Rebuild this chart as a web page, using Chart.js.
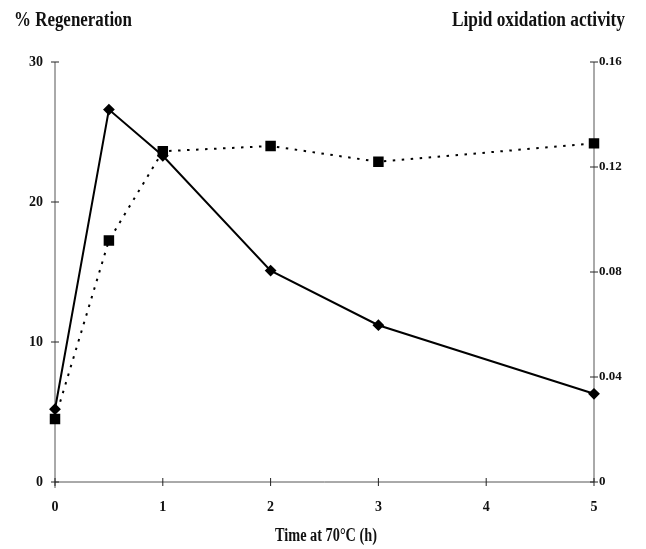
<!DOCTYPE html>
<html>
<head>
<meta charset="utf-8">
<script src="https://cdn.jsdelivr.net/npm/chart.js@4.4.1/dist/chart.umd.min.js"></script>
<style>
  html, body { margin: 0; padding: 0; background: #fff; }
  #wrap { width: 646px; height: 549px; }
</style>
</head>
<body>
<div id="wrap"><canvas id="chart" width="646" height="549"></canvas></div>
<script>
// time points (h) and the two measured series
const hours = [0, 0.5, 1, 2, 3, 5];
const regeneration = [5.2, 26.6, 23.3, 15.1, 11.2, 6.3];
const lipidOxidation = [0.024, 0.092, 0.126, 0.128, 0.122, 0.129];

// tick values on each axis
const timeTicks = [0, 1, 2, 3, 4, 5];
const leftTicks = [0, 10, 20, 30];
const rightTicks = [0, 0.04, 0.08, 0.12, 0.16];

const serif = '"Liberation Serif", "Times New Roman", serif';
const ink = '#111';

// draws text squeezed horizontally so it fills a given width
function squeezed(ctx, text, x, y, align, width, size) {
  ctx.save();
  ctx.font = 'bold ' + size + 'px ' + serif;
  ctx.fillStyle = ink;
  ctx.textBaseline = 'alphabetic';
  const w = ctx.measureText(text).width;
  const k = width / w;
  let x0 = x;
  if (align === 'right') x0 = x - width;
  if (align === 'center') x0 = x - width / 2;
  ctx.translate(x0, y);
  ctx.scale(k, 1);
  ctx.textAlign = 'left';
  ctx.fillText(text, 0, 0);
  ctx.restore();
}

// axis lines with small cross ticks, plus the axis titles
const frame = {
  id: 'frame',
  beforeDatasetsDraw(chart) {
    const { ctx, chartArea: a, scales } = chart;
    ctx.save();
    ctx.strokeStyle = '#555';
    ctx.lineWidth = 1;
    ctx.beginPath();
    ctx.moveTo(a.left, a.top);
    ctx.lineTo(a.left, a.bottom + 6);
    ctx.moveTo(a.left, a.bottom);
    ctx.lineTo(a.right, a.bottom);
    ctx.moveTo(a.right, a.top);
    ctx.lineTo(a.right, a.bottom);
    ctx.stroke();

    ctx.strokeStyle = '#222';
    ctx.beginPath();
    scales.x.ticks.forEach(t => {
      const px = scales.x.getPixelForValue(t.value);
      ctx.moveTo(px, a.bottom - 4);
      ctx.lineTo(px, a.bottom + 4);
    });
    scales.y.ticks.forEach(t => {
      const py = scales.y.getPixelForValue(t.value);
      ctx.moveTo(a.left - 4, py);
      ctx.lineTo(a.left + 4, py);
    });
    scales.y1.ticks.forEach(t => {
      const py = scales.y1.getPixelForValue(t.value);
      ctx.moveTo(a.right - 4, py);
      ctx.lineTo(a.right + 4, py);
    });
    ctx.stroke();
    ctx.restore();
  },
  afterDraw(chart) {
    const ctx = chart.ctx;
    squeezed(ctx, '% Regeneration', 14, 26, 'left', 118, 20);
    squeezed(ctx, 'Lipid oxidation activity', 625, 26, 'right', 173, 20);
    squeezed(ctx, 'Time at 70°C (h)', 326, 541, 'center', 102, 18);
  }
};

const tickFont = { family: serif, size: 14, weight: 'bold' };

new Chart(document.getElementById('chart'), {
  type: 'line',
  data: {
    datasets: [
      {
        label: 'Lipid oxidation activity',
        data: hours.map((h, i) => ({ x: h, y: lipidOxidation[i] })),
        yAxisID: 'y1',
        borderColor: '#000',
        backgroundColor: '#000',
        borderWidth: 2,
        borderDash: [2.5, 6.5],
        pointStyle: 'rect',
        pointRadius: 6,
        tension: 0
      },
      {
        label: '% Regeneration',
        data: hours.map((h, i) => ({ x: h, y: regeneration[i] })),
        yAxisID: 'y',
        borderColor: '#000',
        backgroundColor: '#000',
        borderWidth: 2,
        pointStyle: 'rectRot',
        pointRadius: 4.5,
        tension: 0
      }
    ]
  },
  options: {
    responsive: false,
    devicePixelRatio: 1,
    animation: false,
    clip: false,
    layout: { padding: { top: 62, left: 0, right: 0, bottom: 0 } },
    plugins: {
      legend: { display: false },
      tooltip: { enabled: false }
    },
    scales: {
      x: {
        type: 'linear',
        min: 0,
        max: 5,
        afterBuildTicks: s => { s.ticks = timeTicks.map(v => ({ value: v })); },
        afterFit: s => { s.height = 67; },
        grid: { display: false, drawTicks: false },
        border: { display: false },
        ticks: { font: tickFont, color: ink, padding: 17, maxRotation: 0 }
      },
      y: {
        position: 'left',
        min: 0,
        max: 30,
        afterBuildTicks: s => { s.ticks = leftTicks.map(v => ({ value: v })); },
        afterFit: s => { s.width = 55; },
        grid: { display: false, drawTicks: false },
        border: { display: false },
        ticks: { font: tickFont, color: ink, padding: 12 }
      },
      y1: {
        position: 'right',
        min: 0,
        max: 0.16,
        afterBuildTicks: s => { s.ticks = rightTicks.map(v => ({ value: v })); },
        afterFit: s => { s.width = 52; },
        grid: { display: false, drawTicks: false },
        border: { display: false },
        ticks: {
          font: { family: serif, size: 13, weight: 'bold' },
          color: ink,
          padding: 5,
          callback: v => (v === 0 ? '0' : v.toFixed(2))
        }
      }
    }
  },
  plugins: [frame]
});
</script>
</body>
</html>
